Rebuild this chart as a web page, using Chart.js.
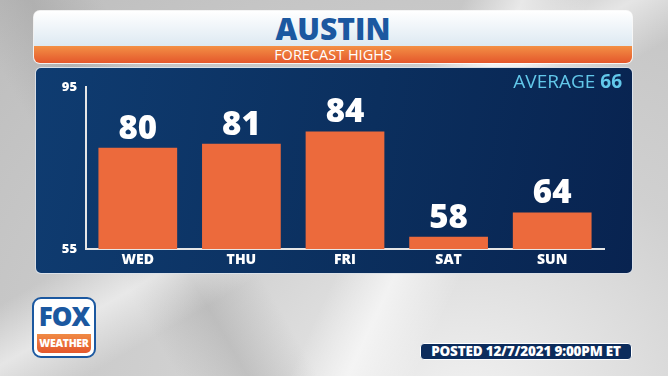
<!DOCTYPE html>
<html>
<head>
<meta charset="utf-8">
<script src="https://cdn.jsdelivr.net/npm/chart.js@4"></script>
<style>
  body { margin: 0; width: 668px; height: 376px; overflow: hidden; font-family: "Open Sans", sans-serif; }
  #bg {
    position: absolute; left: 0; top: 0; width: 668px; height: 376px;
    background:
      linear-gradient(115deg, rgba(255,255,255,0) 55%, rgba(255,255,255,0.6) 62%, rgba(255,255,255,0) 70%),
      linear-gradient(150deg, rgba(255,255,255,0) 40%, rgba(255,255,255,0.55) 48%, rgba(255,255,255,0) 56%),
      linear-gradient(60deg, rgba(150,150,150,0) 20%, rgba(150,150,150,0.35) 28%, rgba(150,150,150,0) 36%),
      radial-gradient(ellipse at 70% 110%, #f2f2f2 0%, #d0d0d0 45%, #bdbdbd 100%),
      #c9c9c9;
  }
  .header {
    position: absolute; left: 34px; top: 11px; width: 598px; height: 52px;
    border-radius: 6px; overflow: hidden; background: #fff;
    box-shadow: 0 0 0 1px rgba(255,255,255,0.8);
  }
  .title {
    height: 35px; text-align: center; color: #1b58a0;
    font-weight: 800; font-size: 30px; line-height: 36px;
    background: linear-gradient(#ffffff, #dde9f2);
  }
  .sub {
    height: 17px; text-align: center; color: #fff; font-size: 14.5px; line-height: 17px;
    background: linear-gradient(#f39045, #e4572c);
  }
  .panel {
    position: absolute; left: 35px; top: 67px; width: 596px; height: 205px;
    border-radius: 6px; border: 1px solid rgba(255,255,255,0.85);
    background: linear-gradient(100deg, #0f3c71 0%, #0b2f5e 55%, #082350 100%);
  }
  #wrap { position: absolute; left: 36px; top: 68px; width: 595px; height: 204px; }
  .avg {
    position: absolute; right: 46px; top: 68px; color: #62c8ea; font-size: 19px;
  }
  .avg b { font-weight: 700; }
  .logo {
    position: absolute; left: 32px; top: 297px; width: 64px; height: 61px;
    border-radius: 9px; background: #fff; border: 2px solid #1b58a0; box-sizing: border-box; overflow: hidden;
  }
  .logo .fox { color: #1b58a0; font-weight: 800; font-size: 26px; text-align: center; line-height: 34px; letter-spacing: -1px; }
  .logo .wx {
    position: absolute; left: 3px; right: 3px; bottom: 3px; height: 19px; border-radius: 0 0 5px 5px;
    background: linear-gradient(#f08a44, #e4572c); color: #fff; font-weight: 800; font-size: 10.5px;
    text-align: center; line-height: 19px; letter-spacing: -0.3px;
  }
  .posted {
    position: absolute; left: 420px; top: 343px; width: 212px; height: 17px;
    border-radius: 4px; background: #0c2c5c; border: 1px solid #fff; box-sizing: border-box;
    color: #fff; font-weight: 800; font-size: 13.5px; line-height: 15px; text-align: center; letter-spacing: -0.2px;
  }
</style>
</head>
<body>
<div id="bg"></div>
<div class="header">
  <div class="title">AUSTIN</div>
  <div class="sub">FORECAST HIGHS</div>
</div>
<div class="panel"></div>
<div id="wrap"><canvas id="chart"></canvas></div>
<div class="avg">AVERAGE <b>66</b></div>
<div class="logo"><div class="fox">FOX</div><div class="wx">WEATHER</div></div>
<div class="posted">POSTED 12/7/2021 9:00PM ET</div>

<script>
const days = ["WED", "THU", "FRI", "SAT", "SUN"];
const highs = [80, 81, 84, 58, 64];
const yTicks = [55, 95];

// draws the big number above each bar
const valueLabels = {
  id: "valueLabels",
  afterDatasetsDraw(chart) {
    const ctx = chart.ctx;
    const meta = chart.getDatasetMeta(0);
    ctx.save();
    ctx.fillStyle = "#ffffff";
    ctx.font = "800 33px 'Open Sans'";
    ctx.textAlign = "center";
    ctx.textBaseline = "bottom";
    meta.data.forEach((bar, i) => {
      ctx.fillText(highs[i], bar.x, bar.y - 2);
    });
    ctx.restore();
  }
};

new Chart(document.getElementById("chart"), {
  type: "bar",
  data: {
    labels: days,
    datasets: [{
      data: highs,
      backgroundColor: "#ec6a3c",
      barPercentage: 0.76,
      categoryPercentage: 1
    }]
  },
  options: {
    responsive: true,
    maintainAspectRatio: false,
    animation: false,
    layout: { padding: { top: 19, right: 27, left: 0, bottom: 0 } },
    plugins: { legend: { display: false }, tooltip: { enabled: false } },
    scales: {
      x: {
        grid: { display: false, drawTicks: false },
        border: { display: true, color: "#e6e6e6", width: 2 },
        ticks: { color: "#ffffff", font: { family: "Open Sans", weight: "800", size: 14 }, padding: 3 },
        afterFit: (axis) => { axis.height = 23; }
      },
      y: {
        min: yTicks[0],
        max: yTicks[yTicks.length - 1],
        grid: { display: false, drawTicks: false },
        border: { display: true, color: "#e6e6e6", width: 2 },
        afterBuildTicks: (axis) => { axis.ticks = yTicks.map((v) => ({ value: v })); },
        ticks: { color: "#ffffff", font: { family: "Open Sans", weight: "800", size: 13 }, padding: 9 },
        afterFit: (axis) => { axis.width = 50; }
      }
    }
  },
  plugins: [valueLabels]
});
</script>
</body>
</html>
